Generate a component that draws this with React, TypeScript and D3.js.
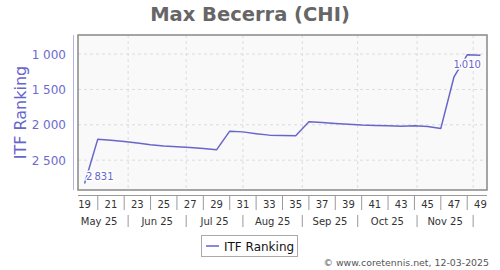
import React from "react";
import * as d3 from "d3";

const weeks = [19, 20, 21, 22, 23, 24, 25, 26, 27, 28, 29, 30, 31, 32, 33, 34, 35, 36, 37, 38, 39, 40, 41, 42, 43, 44, 45, 46, 47, 48, 49];
const ranking = [2831, 2203, 2218, 2235, 2258, 2282, 2300, 2310, 2320, 2335, 2354, 2090, 2100, 2125, 2146, 2152, 2156, 1958, 1968, 1980, 1993, 2004, 2010, 2012, 2019, 2015, 2025, 2051, 1321, 1010, 1015];
const weekTicks = [19, 21, 23, 25, 27, 29, 31, 33, 35, 37, 39, 41, 43, 45, 47, 49];
const weekSeparators = [20, 22, 24, 26, 28, 30, 32, 34, 36, 38, 40, 42, 44, 46, 48];
const monthStarts = [17.9, 22.3, 26.7, 31.0, 35.5, 39.7, 44.2, 48.45];
const monthLabels = ["May 25", "Jun 25", "Jul 25", "Aug 25", "Sep 25", "Oct 25", "Nov 25"];
const yTicks = [1000, 1500, 2000, 2500];
const title = "Max Becerra (CHI)";
const seriesName = "ITF Ranking";
const credit = "© www.coretennis.net, 12-03-2025";

const FONT = "DejaVu Sans, sans-serif";
const LINE = "#6666cc";

function fmt(v: number, sep: string) {
  const s = String(v);
  return s.length > 3 ? s.slice(0, s.length - 3) + sep + s.slice(s.length - 3) : s;
}

export default function App() {
  const W = 500, H = 270;
  const left = 78, right = 487, top = 35, bottom = 190;
  const x = d3.scaleLinear().domain([18.5, 49.5]).range([left, right]);
  const y = d3.scaleLinear().domain([730, 2922]).range([top, bottom]);
  const line = d3.line<number>().x((_, i) => x(weeks[i])).y((d) => y(d));
  const data = ranking;
  const maxI = data.indexOf(d3.max(data)!);
  const minI = data.indexOf(d3.min(data)!);
  const axisY = 195.5;

  return (
    <svg width={W} height={H} style={{ position: "absolute", left: 0, top: 0, fontFamily: FONT }}>
      <rect x={0} y={0} width={W} height={H} fill="#fff" />
      <text x={250} y={20.5} textAnchor="middle" fontSize={19.5} fontWeight="bold" fill="#666">{title}</text>
      {/* plot background */}
      <rect x={left} y={top} width={right - left} height={bottom - top} fill="#f9f9f9" />
      {yTicks.map((t) => (
        <line key={"gy" + t} x1={left} x2={right} y1={y(t)} y2={y(t)} stroke="#dcdcdc" strokeDasharray="3,3" />
      ))}
      {monthStarts.slice(1).map((m) => (
        <line key={"gx" + m} x1={x(m)} x2={x(m)} y1={top} y2={bottom} stroke="#dcdcdc" strokeDasharray="3,3" />
      ))}
      <rect x={left} y={top} width={right - left} height={bottom - top} fill="none" stroke="#888" strokeWidth={1.5} />
      {/* y axis */}
      <line x1={73.5} x2={73.5} y1={top} y2={bottom} stroke="#b4b4e4" />
      {yTicks.map((t) => (
        <text key={"yt" + t} x={66} y={y(t) + 4.5} textAnchor="end" fontSize={12} fill="#6b6bcf">{fmt(t, " ")}</text>
      ))}
      <text transform={`translate(26,${(top + bottom) / 2}) rotate(-90)`} textAnchor="middle" fontSize={16} fill="#6666cc">{seriesName}</text>
      {/* series */}
      <path d={line(data)!} fill="none" stroke={LINE} strokeWidth={1.5} strokeLinejoin="round" />
      <text x={x(weeks[maxI]) + 1.5} y={y(data[maxI]) - 3.5} fontSize={10} fill={LINE} stroke="#ffffff" strokeWidth={3} strokeLinejoin="round" style={{ paintOrder: "stroke" }}>{fmt(data[maxI], "\u2009")}</text>
      <text x={x(weeks[minI])} y={y(data[minI]) + 13} textAnchor="middle" fontSize={10} fill={LINE} stroke="#ffffff" strokeWidth={3} strokeLinejoin="round" style={{ paintOrder: "stroke" }}>{fmt(data[minI], "\u2009")}</text>
      {/* x axis */}
      <line x1={left} x2={right} y1={axisY} y2={axisY} stroke="#999" />
      {weekSeparators.map((w) => (
        <line key={"ws" + w} x1={x(w)} x2={x(w)} y1={axisY} y2={210} stroke="#999" />
      ))}
      {weekTicks.map((w) => (
        <text key={"wt" + w} x={x(w)} y={208} textAnchor="middle" fontSize={10} fill="#333">{w}</text>
      ))}
      {monthStarts.slice(1).map((m) => (
        <line key={"ms" + m} x1={x(m)} x2={x(m)} y1={215} y2={227} stroke="#999" />
      ))}
      {monthLabels.map((l, i) => (
        <text key={l} x={(x(monthStarts[i]) + x(monthStarts[i + 1])) / 2} y={225} textAnchor="middle" fontSize={10} fill="#333">{l}</text>
      ))}
      {/* legend */}
      <rect x={201.5} y={235.5} width={96} height={21} fill="#fff" stroke="#aaa" />
      <line x1={206} x2={219} y1={246} y2={246} stroke="#8888dd" strokeWidth={2} />
      <text x={224} y={250.5} fontSize={12} fill="#111">{seriesName}</text>
      <text x={489} y={266} textAnchor="end" fontSize={9.4} fill="#555">{credit}</text>
    </svg>
  );
}
